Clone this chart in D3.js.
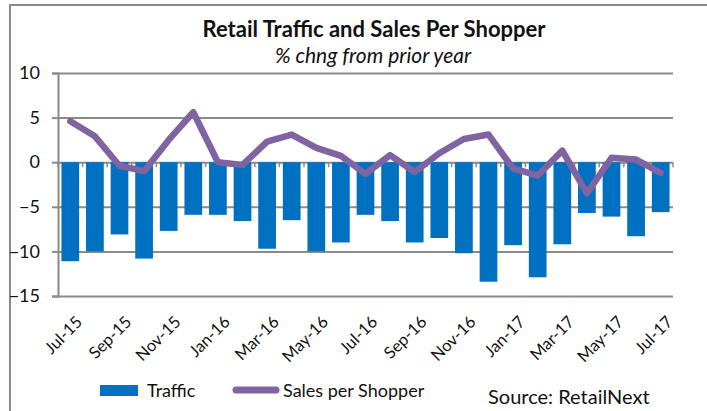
<!DOCTYPE html>
<html>
<head>
<meta charset="utf-8">
<script src="https://cdn.jsdelivr.net/npm/d3@7"></script>
<style>
  body { margin: 0; background: #fff; }
  text { font-family: Lato, "Open Sans", sans-serif; fill: #111; }
</style>
</head>
<body>
<div id="wrapper"></div>
<script>
// chart data
const months = ['Jul-15','Aug-15','Sep-15','Oct-15','Nov-15','Dec-15','Jan-16','Feb-16','Mar-16','Apr-16','May-16','Jun-16',
    'Jul-16','Aug-16','Sep-16','Oct-16','Nov-16','Dec-16','Jan-17','Feb-17','Mar-17','Apr-17','May-17','Jun-17','Jul-17'];
const traffic = [-11.1, -10.0, -8.1, -10.8, -7.7, -5.9, -5.9, -6.6, -9.7, -6.5, -10.0, -9.0,
    -5.9, -6.6, -9.0, -8.5, -10.2, -13.4, -9.3, -12.9, -9.2, -5.7, -6.1, -8.3, -5.6];
const salesPerShopper = [4.6, 2.9, -0.4, -1.0, 2.5, 5.6, 0.0, -0.3, 2.3, 3.1, 1.6, 0.7,
    -1.3, 0.8, -1.1, 1.0, 2.6, 3.1, -0.7, -1.5, 1.3, -3.5, 0.5, 0.3, -1.2];
const yTicks = [10, 5, 0, -5, -10, -15];
const xLabels = ['Jul-15','Sep-15','Nov-15','Jan-16','Mar-16','May-16','Jul-16','Sep-16','Nov-16','Jan-17','Mar-17','May-17','Jul-17'];

function drawChart() {
    const width = 707;
    const height = 411;
    const plot = { left: 58, right: 673, top: 73, bottom: 296 };

    const svg = d3.select('#wrapper')
        .append('svg')
        .attr('width', width)
        .attr('height', height);

    // outer frame
    svg.append('path')
        .attr('d', `M10,${height} L10,5 L${width},5`)
        .attr('fill', 'none')
        .attr('stroke', '#8a8a8a')
        .attr('stroke-width', 2);

    const xScale = d3.scaleBand()
        .domain(months)
        .range([plot.left, plot.right])
        .paddingInner(0.28)
        .paddingOuter(0.14);

    const yScale = d3.scaleLinear()
        .domain([-15, 10])
        .range([plot.bottom, plot.top]);

    // gridlines + y labels
    const yAxis = svg.append('g')
        .attr('transform', `translate(${plot.left},0)`)
        .call(d3.axisLeft(yScale).tickValues(yTicks).tickSize(6).tickPadding(12));
    yAxis.select('.domain')
        .attr('stroke', '#8a8a8a').attr('stroke-width', 2);
    yAxis.selectAll('.tick line').attr('stroke', '#8a8a8a').attr('stroke-width', 2);
    yAxis.selectAll('.tick text')
        .style('font-size', '18px')
        .attr('fill', '#111');
    yAxis.selectAll('.tick')
        .append('line')
        .attr('x1', 0)
        .attr('x2', plot.right - plot.left)
        .attr('stroke', '#8a8a8a')
        .attr('stroke-width', 2);

    // category tick marks on zero line
    const step = xScale.step();
    svg.append('g')
        .selectAll('line')
        .data(d3.range(months.length + 1))
        .join('line')
        .attr('x1', i => plot.left + i * step)
        .attr('x2', i => plot.left + i * step)
        .attr('y1', yScale(0))
        .attr('y2', yScale(0) + 5)
        .attr('stroke', '#8a8a8a')
        .attr('stroke-width', 1.5);

    // bars
    svg.append('g')
        .selectAll('rect')
        .data(months)
        .join('rect')
        .attr('x', d => xScale(d))
        .attr('width', xScale.bandwidth())
        .attr('y', yScale(0))
        .attr('height', (d, i) => yScale(traffic[i]) - yScale(0))
        .attr('fill', '#0070C0');

    // line
    const line = d3.line()
        .x((d, i) => xScale(months[i]) + xScale.bandwidth() / 2)
        .y(d => yScale(d));

    svg.append('path')
        .attr('d', line(salesPerShopper))
        .attr('fill', 'none')
        .attr('stroke', '#8064A2')
        .attr('stroke-width', 6.5)
        .attr('stroke-linejoin', 'round')
        .attr('stroke-linecap', 'round');

    // x labels
    svg.append('g')
        .selectAll('text')
        .data(xLabels)
        .join('text')
        .attr('transform', d => `translate(${xScale(d) + xScale.bandwidth() / 2 + 13},${plot.bottom + 27}) rotate(-45)`)
        .attr('text-anchor', 'end')
        .style('font-size', '16.5px')
        .text(d => d);

    // titles
    svg.append('text')
        .attr('x', 374)
        .attr('y', 37)
        .attr('text-anchor', 'middle')
        .style('font-size', '22px')
        .style('font-weight', 'bold')
        .text('Retail Traffic and Sales Per Shopper');

    svg.append('text')
        .attr('x', 373)
        .attr('y', 63)
        .attr('text-anchor', 'middle')
        .style('font-size', '21px')
        .style('font-style', 'italic')
        .text('% chng from prior year');

    // legend
    svg.append('rect')
        .attr('x', 100).attr('y', 385)
        .attr('width', 38).attr('height', 11)
        .attr('fill', '#0070C0');
    svg.append('text')
        .attr('x', 147).attr('y', 397)
        .style('font-size', '18px')
        .text('Traffic');

    svg.append('line')
        .attr('x1', 236).attr('x2', 276)
        .attr('y1', 390).attr('y2', 390)
        .attr('stroke', '#8064A2')
        .attr('stroke-width', 7)
        .attr('stroke-linecap', 'round');
    svg.append('text')
        .attr('x', 283).attr('y', 397)
        .style('font-size', '18px')
        .text('Sales per Shopper');

    svg.append('text')
        .attr('x', 488).attr('y', 404)
        .style('font-size', '20px')
        .text('Source: RetailNext');
}

drawChart();
</script>
</body>
</html>
